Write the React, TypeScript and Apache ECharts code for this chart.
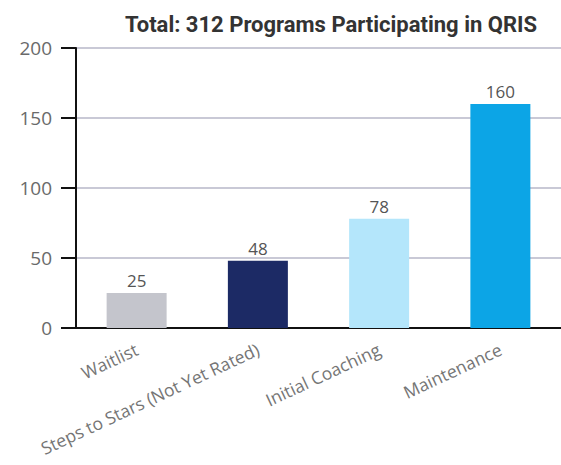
import React, { useEffect, useRef } from "react";
import * as echarts from "echarts";

const categories = ["Waitlist", "Steps to Stars (Not Yet Rated)", "Initial Coaching", "Maintenance"];
const values = [25, 48, 78, 160];
const colors = ["#c4c5cc", "#1c2a65", "#b4e6fb", "#0ca5e6"];
const titleText = "Total: 312 Programs Participating in QRIS";

export default function App() {
  const ref = useRef<HTMLDivElement>(null);
  useEffect(() => {
    if (!ref.current) return;
    const chart = echarts.init(ref.current, null, { renderer: "svg" });
    chart.setOption({
      animation: false,
      backgroundColor: "#ffffff",
      title: {
        text: titleText,
        left: 326,
        textAlign: "center",
        top: 8,
        textStyle: {
          fontFamily: "Roboto",
          fontWeight: "bold",
          fontSize: 22,
          color: "#333333",
        },
      },
      grid: { left: 76, right: 0, top: 48, bottom: 137, containLabel: false },
      xAxis: {
        type: "category",
        data: categories,
        axisLine: { lineStyle: { color: "#111111", width: 2 } },
        axisTick: { alignWithLabel: true, length: 16, lineStyle: { color: "#111111", width: 2 } },
        axisLabel: {
          rotate: 25,
          margin: 20,
          fontFamily: "Open Sans",
          fontSize: 17.5,
          color: "#757575",
          interval: 0,
        },
      },
      yAxis: {
        type: "value",
        min: 0,
        max: 200,
        interval: 50,
        axisLine: { show: true, lineStyle: { color: "#111111", width: 2 } },
        axisTick: { show: true, length: 15, lineStyle: { color: "#111111", width: 2 } },
        axisLabel: { margin: 24, fontFamily: "Open Sans", fontSize: 19, color: "#6a6a6a" },
        splitLine: { lineStyle: { color: "#c9c9d6", width: 2 } },
      },
      series: [
        {
          type: "bar",
          data: values.map((v, i) => ({ value: v, itemStyle: { color: colors[i] } })),
          barWidth: 60,
          label: {
            show: true,
            position: "top",
            distance: 4,
            fontFamily: "Open Sans",
            fontSize: 17,
            color: "#555555",
          },
        },
      ],
    });
    return () => chart.dispose();
  }, []);
  return <div ref={ref} style={{ position: "fixed", left: 0, top: 0, width: 561, height: 465 }} />;
}
